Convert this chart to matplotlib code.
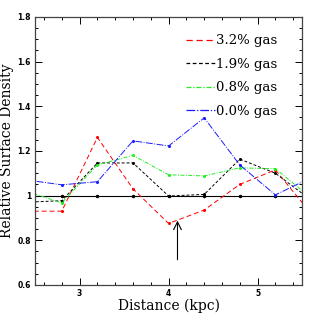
import matplotlib
matplotlib.use("Agg")
import matplotlib.pyplot as plt
from matplotlib.ticker import MultipleLocator, FuncFormatter

distance = [2.4, 2.8, 3.2, 3.6, 4.0, 4.4, 4.8, 5.2, 5.6]
gas_32 = [0.93, 0.93, 1.26, 1.03, 0.875, 0.935, 1.05, 1.115, 0.92]
gas_19 = [0.97, 0.977, 1.146, 1.146, 0.998, 1.005, 1.163, 1.10, 0.98]
gas_08 = [1.02, 0.967, 1.137, 1.18, 1.093, 1.088, 1.124, 1.12, 0.99]
gas_00 = [1.07, 1.048, 1.062, 1.245, 1.222, 1.348, 1.137, 1.003, 1.08]
labels = ["3.2% gas", "1.9% gas", "0.8% gas", "0.0% gas"]

fig = plt.figure(figsize=(3.19, 3.19), dpi=100)
ax = fig.add_axes([0.11, 0.107, 0.837, 0.84])

ax.plot(distance, [1.0] * len(distance), color="black", lw=0.8, marker="o", ms=1.5)
ax.plot(distance, gas_32, color="red", lw=0.7, dashes=(5, 3), marker="o", ms=1.2, label=labels[0])
ax.plot(distance, gas_19, color="black", lw=0.7, dashes=(3, 2), marker="o", ms=1.2, label=labels[1])
ax.plot(distance, gas_08, color="#22ee22", lw=0.7, dashes=(4, 1.5, 1, 1.5), marker="o", ms=1.2, label=labels[2])
ax.plot(distance, gas_00, color="#1a1aff", lw=0.7, dashes=(7, 1.5, 1, 1.5), marker="o", ms=1.2, label=labels[3])

# arrow marking the gas-rich dip
ax.annotate("", xy=(4.1, 0.9), xytext=(4.1, 0.7),
            arrowprops=dict(arrowstyle="->", color="black", lw=0.8, mutation_scale=14))

ax.set_xlim(2.5, 5.5)
ax.set_ylim(0.6, 1.8)
ax.xaxis.set_major_locator(MultipleLocator(1))
ax.xaxis.set_minor_locator(MultipleLocator(0.2))
ax.yaxis.set_major_locator(MultipleLocator(0.2))
ax.yaxis.set_minor_locator(MultipleLocator(0.05))
ax.xaxis.set_major_formatter(FuncFormatter(lambda v, p: f"{v:g}"))
ax.yaxis.set_major_formatter(FuncFormatter(lambda v, p: f"{v:g}"))
ax.tick_params(which="both", direction="in", top=True, right=True, width=0.7, labelsize=5.5, pad=3)
ax.tick_params(which="major", length=5)
ax.tick_params(which="minor", length=2.5)
for lbl in ax.get_xticklabels() + ax.get_yticklabels():
    lbl.set_fontweight("bold")
for s in ax.spines.values():
    s.set_linewidth(0.9)
    s.set_color("#444444")

ax.set_xlabel("Distance (kpc)", family="DejaVu Serif", fontsize=10)
ax.set_ylabel("Relative Surface Density", family="DejaVu Serif", fontsize=10)
ax.xaxis.set_label_coords(0.5, -0.052)
ax.yaxis.set_label_coords(-0.08, 0.5)

leg = ax.legend(loc="upper right", frameon=False, prop={"family": "DejaVu Serif", "size": 9.5},
                handlelength=2.2, handletextpad=0.05, labelspacing=0.8, borderaxespad=0.0,
                bbox_to_anchor=(0.925, 0.955))
for h in leg.get_lines():
    h.set_marker("")
    h.set_linewidth(0.9)

fig.savefig("out.png", dpi=100)
